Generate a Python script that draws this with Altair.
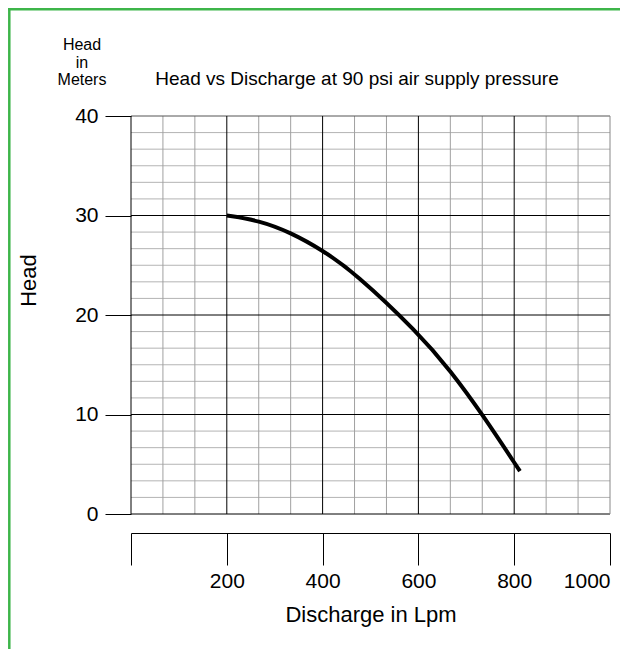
import altair as alt
import pandas as pd

# Curve values
discharge = [200, 267, 333, 400, 466, 600, 667, 734, 812]
head = [30.0, 29.5, 28.3, 26.5, 24.3, 18.2, 14.4, 10.0, 4.3]

# Grid positions
x_minor = [66.67, 133.33, 266.67, 333.33, 466.67, 533.33, 666.67, 733.33, 866.67, 933.33]
x_major = [0, 200, 400, 600, 800]
x_edge = [1000]
y_minor = [1.667, 3.333, 5, 6.667, 8.333, 11.667, 13.333, 15, 16.667, 18.333,
           21.667, 23.333, 25, 26.667, 28.333, 31.667, 33.333, 35, 36.667, 38.333]
y_major = [0, 10, 20, 30]
y_top = [40]
x_ticks = [0, 200, 400, 600, 800, 1000]
y_ticks = [0, 10, 20, 30, 40]

W, H = 479, 398
FONT = "Liberation Sans"

xs = alt.Scale(domain=[0, 1000], nice=False, zero=False)
ys = alt.Scale(domain=[0, 40], nice=False, zero=False)

curve_df = pd.DataFrame({"Discharge": discharge, "Head": head})

x_axis = alt.Axis(values=x_ticks, offset=19, tickSize=32, tickColor="black", domainColor="black",
                  labelFontSize=21, labelFont=FONT, labelColor="black", labelPadding=5,
                  format="d", labelExpr="datum.value == 0 ? '' : datum.label", grid=False,
                  title="Discharge in Lpm", titleFont=FONT, titleFontSize=22,
                  titleFontWeight="normal", titleColor="black", titlePadding=13)
y_axis = alt.Axis(values=y_ticks, tickSize=26, tickColor="black", domain=False,
                  labelFontSize=21, labelFont=FONT, labelColor="black", labelPadding=7,
                  grid=False, title="Head", titleFont=FONT, titleFontSize=22,
                  titleFontWeight="normal", titleColor="black", titleX=-103, titleY=164,
                  titleBaseline="middle", titleAlign="center")


def X(field):
    return alt.X(field, scale=xs, axis=x_axis)


def Y(field):
    return alt.Y(field, scale=ys, axis=y_axis)


minor_h = alt.Chart(pd.DataFrame({"y": y_minor})).mark_rule(color="#b4b4b4", strokeWidth=1).encode(
    y=Y("y:Q"))
minor_v = alt.Chart(pd.DataFrame({"x": x_minor})).mark_rule(color="#a0a0a0", strokeWidth=1).encode(
    x=X("x:Q"))
major_h = alt.Chart(pd.DataFrame({"y": y_major})).mark_rule(color="black", strokeWidth=1).encode(
    y=Y("y:Q"))
top_h = alt.Chart(pd.DataFrame({"y": y_top})).mark_rule(color="#555555", strokeWidth=1).encode(
    y=Y("y:Q"))
major_v = alt.Chart(pd.DataFrame({"x": x_major})).mark_rule(color="black", strokeWidth=1).encode(
    x=X("x:Q"))
edge_v = alt.Chart(pd.DataFrame({"x": x_edge})).mark_rule(color="#888888", strokeWidth=1).encode(
    x=X("x:Q"))

line = alt.Chart(curve_df).mark_line(color="black", strokeWidth=4, interpolate="basis").encode(
    x=X("Discharge:Q"), y=Y("Head:Q"))

one = pd.DataFrame({"a": [0]})
title = alt.Chart(one).mark_text(text="Head vs Discharge at 90 psi air supply pressure", font=FONT,
                                 fontSize=19, color="black", align="center", baseline="middle").encode(
    x=alt.value(226), y=alt.value(-37.5))
units = alt.Chart(one).mark_text(text="Head\nin\nMeters", lineBreak="\n", lineHeight=17.5, font=FONT,
                                 fontSize=16, color="black", align="center", baseline="middle").encode(
    x=alt.value(-49), y=alt.value(-71))

green_left = alt.Chart(one).mark_rule(color="#3db54a", strokeWidth=2.5).encode(
    x=alt.value(-121.7), y=alt.value(-108), y2=alt.value(H + 135))
green_top = alt.Chart(one).mark_rule(color="#3db54a", strokeWidth=2.5).encode(
    x=alt.value(-123), x2=alt.value(W + 10), y=alt.value(-106.7))

chart = alt.layer(minor_h, minor_v, major_h, top_h, major_v, edge_v, line, title, units,
                  green_left, green_top).properties(
    width=W, height=H,
    padding={"left": 123, "top": 108, "right": 10, "bottom": 135},
    autosize=alt.AutoSizeParams(type="none"),
).configure_view(stroke=None)

chart.save("out.html", embed_options={"renderer": "svg", "actions": False})
